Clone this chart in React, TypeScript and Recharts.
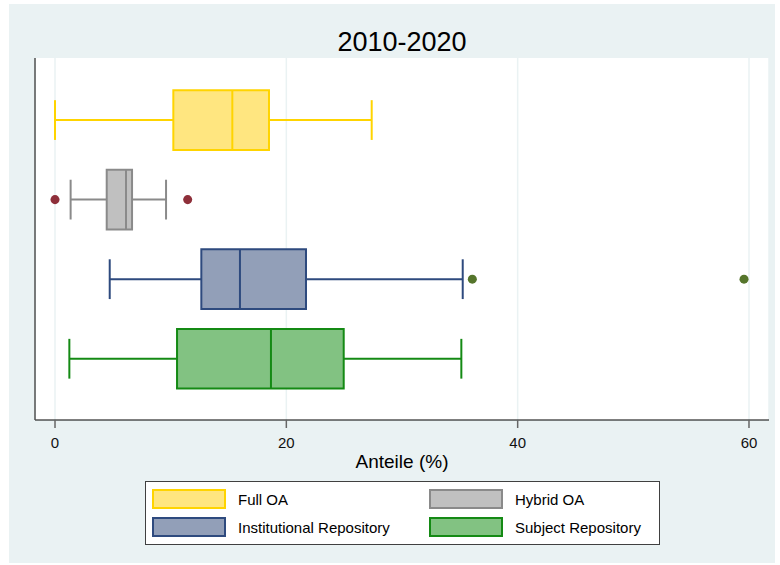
import React from 'react'
import {
  ScatterChart,
  Scatter,
  XAxis,
  YAxis,
  ZAxis,
  CartesianGrid,
  ReferenceArea,
  ReferenceLine
} from 'recharts'

// box plot statistics per group (values in %)
const categories = ['Full OA', 'Hybrid OA', 'Institutional Repository', 'Subject Repository']
const whiskerLow = [0, 1.35, 4.73, 1.24]
const q1 = [10.23, 4.47, 12.65, 10.55]
const median = [15.33, 6.14, 15.99, 18.67]
const q3 = [18.5, 6.66, 21.7, 24.96]
const whiskerHigh = [27.38, 9.6, 35.25, 35.13]
const outliers = [[], [0, 11.47], [36.08, 59.57], []]

const xTicks = [0, 20, 40, 60]

const fills = ['#FFE680', '#C0C0C0', '#929FB8', '#82C282']
const strokes = ['#FFD400', '#8A8A8A', '#2E4A7E', '#148A14']
const outlierColors = ['#8E2F3A', '#8E2F3A', '#55752B', '#55752B']

const FONT = '"Liberation Sans", Arial, sans-serif'
const BOX_HALF = 0.375
const CAP_HALF = 0.25

export default function App() {
  return (
    <div style={{ position: 'absolute', left: 0, top: 0, width: 780, height: 565, background: '#fff', fontFamily: FONT }}>
      <div style={{ position: 'absolute', left: 9, top: 4, width: 766, height: 559, background: '#EAF2F3' }} />

      <div style={{ position: 'absolute', left: 35, top: 29, width: 734, textAlign: 'center', fontSize: 27, lineHeight: '27px', color: '#000' }}>
        2010-2020
      </div>

      <div style={{ position: 'absolute', left: 0, top: 0 }}>
        <ScatterChart width={780} height={565} margin={{ top: 58, right: 11, left: 0, bottom: 115 }}>
          <CartesianGrid horizontal={false} stroke="#EAF2F3" strokeWidth={1.5} fill="#ffffff" />
          <XAxis
            type="number"
            dataKey="x"
            domain={[-1.73, 61.73]}
            ticks={xTicks}
            allowDataOverflow
            height={30}
            tickSize={8}
            tickMargin={9}
            axisLine={{ stroke: '#000', strokeWidth: 1.2 }}
            tickLine={{ stroke: '#666', strokeWidth: 1.5 }}
            tick={{ fill: '#111', fontSize: 15, fontFamily: FONT }}
          />
          <YAxis
            type="number"
            dataKey="y"
            domain={[0.22, 4.77]}
            reversed
            allowDataOverflow
            width={35}
            tick={false}
            tickLine={false}
            axisLine={{ stroke: '#505050', strokeWidth: 1.5 }}
          />
          <ZAxis range={[80, 80]} />

          {categories.map((c, i) => {
            const pos = i + 1
            return (
              <React.Fragment key={c}>
                <ReferenceLine segment={[{ x: whiskerLow[i], y: pos }, { x: q1[i], y: pos }]} stroke={strokes[i]} strokeWidth={2} />
                <ReferenceLine segment={[{ x: q3[i], y: pos }, { x: whiskerHigh[i], y: pos }]} stroke={strokes[i]} strokeWidth={2} />
                <ReferenceLine segment={[{ x: whiskerLow[i], y: pos - CAP_HALF }, { x: whiskerLow[i], y: pos + CAP_HALF }]} stroke={strokes[i]} strokeWidth={2} />
                <ReferenceLine segment={[{ x: whiskerHigh[i], y: pos - CAP_HALF }, { x: whiskerHigh[i], y: pos + CAP_HALF }]} stroke={strokes[i]} strokeWidth={2} />
                <ReferenceArea
                  x1={q1[i]}
                  x2={q3[i]}
                  y1={pos - BOX_HALF}
                  y2={pos + BOX_HALF}
                  fill={fills[i]}
                  fillOpacity={1}
                  stroke={strokes[i]}
                  strokeWidth={2}
                />
                <ReferenceLine segment={[{ x: median[i], y: pos - BOX_HALF }, { x: median[i], y: pos + BOX_HALF }]} stroke={strokes[i]} strokeWidth={2} />
              </React.Fragment>
            )
          })}

          {categories.map((c, i) =>
            outliers[i].length > 0 ? (
              <Scatter
                key={'out-' + c}
                data={outliers[i].map((v) => ({ x: v, y: i + 1 }))}
                fill={outlierColors[i]}
                isAnimationActive={false}
              />
            ) : null
          )}
        </ScatterChart>
      </div>

      <div style={{ position: 'absolute', left: 35, top: 452, width: 734, textAlign: 'center', fontSize: 19, lineHeight: '19px', color: '#000' }}>
        Anteile (%)
      </div>

      <div style={{ position: 'absolute', left: 145, top: 481, width: 513, height: 62, background: '#fff', border: '1px solid #404040' }}>
        {categories.map((c, i) => (
          <div
            key={c}
            style={{
              position: 'absolute',
              left: i % 2 === 0 ? 6 : 283,
              top: i < 2 ? 7 : 35,
              height: 20,
              display: 'flex',
              alignItems: 'center'
            }}
          >
            <div style={{ width: 70, height: 16, background: fills[i], border: '2px solid ' + strokes[i] }} />
            <span style={{ marginLeft: 12, fontSize: 15, lineHeight: '15px', color: '#000', whiteSpace: 'nowrap' }}>{c}</span>
          </div>
        ))}
      </div>
    </div>
  )
}
